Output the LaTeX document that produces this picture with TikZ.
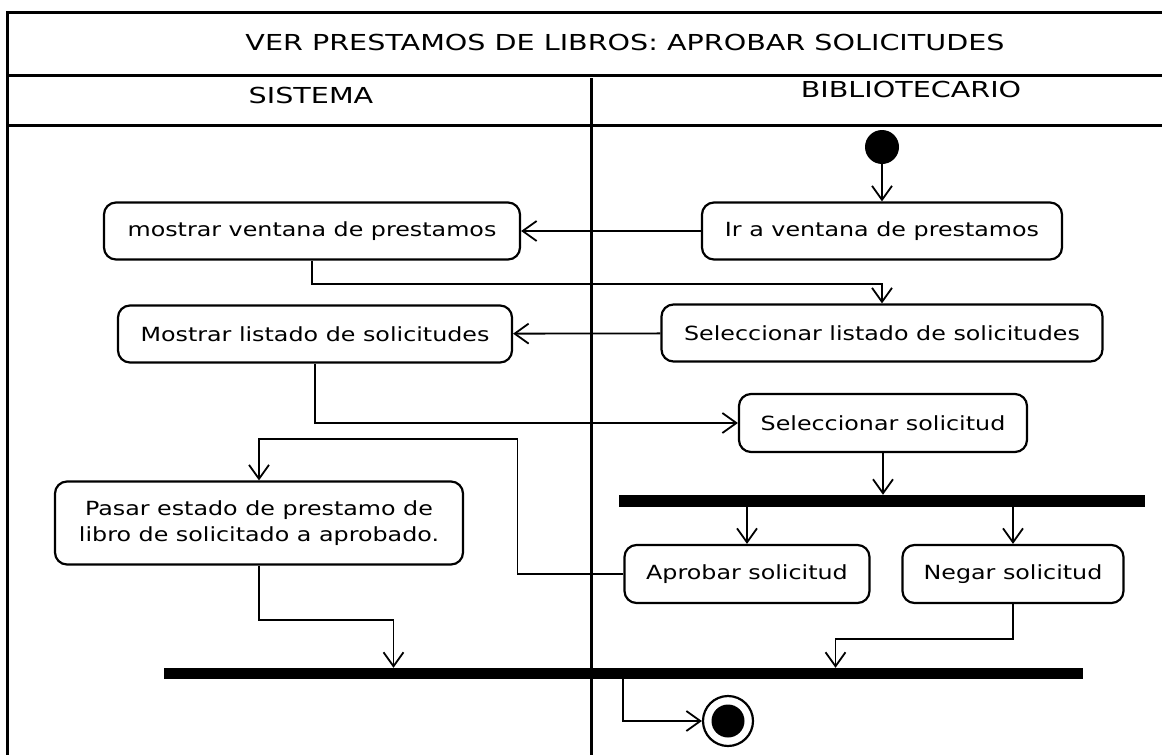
\documentclass[tikz,border=0pt]{standalone}
\usepackage{fontspec}
\setmainfont[FakeStretch=1.22]{DejaVu Sans}
\newfontfamily\headfont[FakeStretch=1.3]{DejaVu Sans}
\usetikzlibrary{arrows.meta}
\newcommand{\bodysize}{\fontsize{19.5}{26}\selectfont}
\newcommand{\headsize}{\headfont\fontsize{22}{26}\selectfont}
\begin{document}
\begin{tikzpicture}[x=1pt,y=-1pt,>={Straight Barb[length=14pt,width=20pt,line width=1.8pt]}]
	\tikzstyle{frame}=[draw=black,line width=3pt]
	\tikzstyle{activity}=[draw=black,line width=2.2pt,rounded corners=12pt,align=center,font=\bodysize,inner sep=0pt]
	\tikzstyle{bar}=[fill=black,inner sep=0pt]
	\tikzstyle{edge}=[draw=black,line width=1.8pt,->]
	\useasboundingbox (0,0) rectangle (1162,755);

	% swimlanes
	\draw[frame] (7,755) -- (7,12) -- (1162,12);
	\draw[frame] (7,75) -- (1162,75);
	\draw[frame] (7,125) -- (1162,125);
	\draw[frame] (591,78) -- (591,755);
	\node [font=\headsize] (title) at (625,42) {VER PRESTAMOS DE LIBROS: APROBAR SOLICITUDES};
	\node [font=\headsize] (sis) at (311,95) {SISTEMA};
	\node [font=\headsize] (bib) at (911,89) {BIBLIOTECARIO};

	% nodes
	\node [circle,fill=black,minimum size=34pt,inner sep=0pt] (ini) at (882,147) {};
	\node [activity,minimum width=360pt,minimum height=57pt] (iv) at (882,231) {Ir a ventana de prestamos};
	\node [activity,minimum width=416pt,minimum height=57pt] (mv) at (312,231) {mostrar ventana de prestamos};
	\node [activity,minimum width=441pt,minimum height=57pt] (sl) at (882,333) {Seleccionar listado de solicitudes};
	\node [activity,minimum width=394pt,minimum height=57pt] (ml) at (315,334) {Mostrar listado de solicitudes};
	\node [activity,minimum width=288pt,minimum height=58pt] (ss) at (883,423) {Seleccionar solicitud};
	\node [bar,minimum width=526pt,minimum height=12pt] (fork) at (882,501) {};
	\node [activity,minimum width=245pt,minimum height=58pt] (ap) at (747,574) {Aprobar solicitud};
	\node [activity,minimum width=221pt,minimum height=58pt] (ng) at (1013,574) {Negar solicitud};
	\node [activity,minimum width=408pt,minimum height=83pt] (ps) at (259,523) {Pasar estado de prestamo de\\libro de solicitado a aprobado.};
	\node [bar,minimum width=919pt,minimum height=11pt] (join) at (623.5,673.5) {};
	\node [circle,draw=black,line width=2.2pt,minimum size=50pt,inner sep=0pt] (fin) at (728,721) {};
	\node [circle,fill=black,minimum size=33pt,inner sep=0pt] (finin) at (fin) {};

	% flows
	\path[edge] (ini) -- (iv);
	\path[edge] (iv) -- (mv);
	\path[edge] (mv.south) -- ++(0,23) -| (sl.north);
	\path[edge] (sl) -- (ml);
	\path[edge] (ml.south) |- (ss.west);
	\path[edge] (ss.south) -- (ss.south |- fork.north);
	\path[edge] (fork.south -| ap.north) -- (ap.north);
	\path[edge] (fork.south -| ng.north) -- (ng.north);
	\path[edge] (ap.west) -- ++(-106,0) -- ++(0,-135) -| (ps.north);
	\path[edge] (ps.south) -- ++(0,54) -| ([xshift=-230pt]join.north);
	\path[edge] (ng.south) -- ++(0,35) -| ([xshift=212pt]join.north);
	\path[edge] ([xshift=-0.5pt]join.south) |- (fin.west);
\end{tikzpicture}
\end{document}
